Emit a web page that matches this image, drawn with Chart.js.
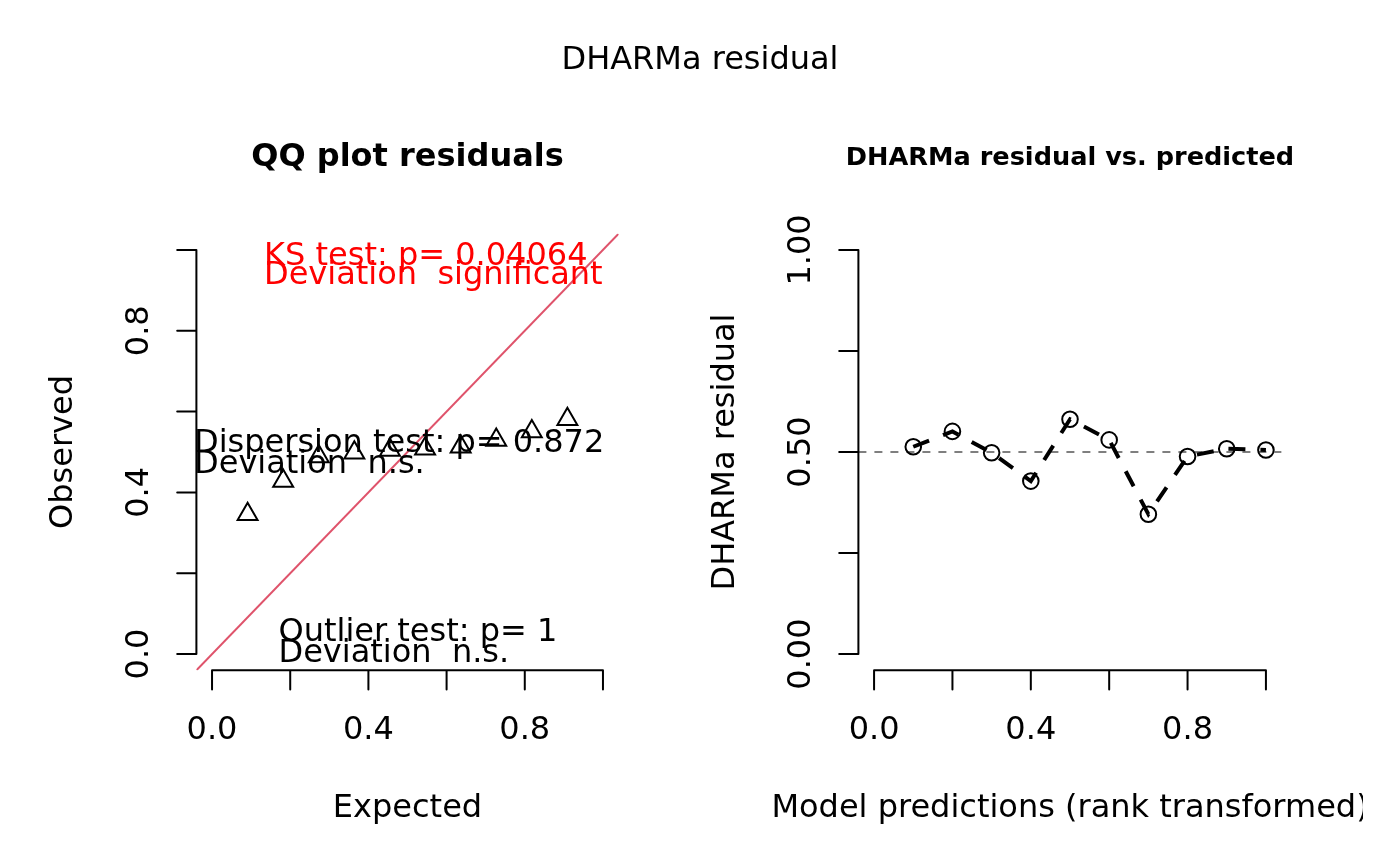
<!DOCTYPE html>
<html>
<head>
<meta charset="utf-8">
<script src="https://cdn.jsdelivr.net/npm/chart.js@4.4.1/dist/chart.umd.min.js"></script>
<style>
html, body { margin: 0; padding: 0; background: #fff; }
#wrap { position: relative; width: 1400px; height: 866px; overflow: hidden; background: #fff; }
#qq { position: absolute; left: 0; top: 0; }
#res { position: absolute; left: 700px; top: 0; }
</style>
</head>
<body>
<div id="wrap">
    <canvas id="qq" width="1400" height="866"></canvas>
    <canvas id="res" width="663" height="866"></canvas>
</div>
<script>
// QQ plot: expected vs observed quantiles
const qqExpected = [0.091, 0.182, 0.273, 0.364, 0.455, 0.545, 0.636, 0.727, 0.818, 0.909];
const qqObserved = [0.346, 0.428, 0.489, 0.498, 0.505, 0.508, 0.513, 0.530, 0.551, 0.581];

// residual vs predicted (rank transformed)
const rankPred = [0.1, 0.2, 0.3, 0.4, 0.5, 0.6, 0.7, 0.8, 0.9, 1.0];
const residuals = [0.513, 0.551, 0.498, 0.428, 0.581, 0.530, 0.346, 0.489, 0.508, 0.505];

// ticks
const xTicks = [0, 0.2, 0.4, 0.6, 0.8, 1];
const xTickLabels = ['0.0', '', '0.4', '', '0.8', ''];
const qqYTicks = [0, 0.2, 0.4, 0.6, 0.8, 1];
const qqYTickLabels = ['0.0', '', '0.4', '', '0.8', ''];
const resYTicks = [0, 0.25, 0.5, 0.75, 1];
const resYTickLabels = ['0.00', '', '0.50', '', '1.00'];

// test results printed in the QQ panel
const testTexts = [
    'KS test: p= 0.04064', 'Deviation  significant',
    'Dispersion test: p= 0.872', 'Deviation  n.s.',
    'Outlier test: p= 1', 'Deviation  n.s.'
];
const testColors = ['#ff0000', '#ff0000', '#000', '#000', '#000', '#000'];

const AXIS_MIN = -0.04;
const AXIS_MAX = 1.04;
const FONT = '"DejaVu Sans", "Liberation Sans", sans-serif';
const TCK = 19.2;

// where the legend-like texts sit (data units, left edge / baseline)
const notePos = [
    [0.133, 0.963], [0.133, 0.915],
    [-0.046, 0.499], [-0.046, 0.448],
    [0.170, 0.033], [0.170, -0.019]
];

function rAxes(cfg) {
    return {
        id: 'rAxes',
        afterDraw(chart) {
            const { ctx, chartArea: a } = chart;
            const xs = chart.scales.x, ys = chart.scales.y;
            ctx.save();
            ctx.strokeStyle = '#000';
            ctx.fillStyle = '#000';
            ctx.lineWidth = 2;
            ctx.lineCap = 'round';

            // axis lines + ticks
            ctx.beginPath();
            ctx.moveTo(xs.getPixelForValue(cfg.xTicks[0]), a.bottom);
            ctx.lineTo(xs.getPixelForValue(cfg.xTicks[cfg.xTicks.length - 1]), a.bottom);
            cfg.xTicks.forEach(v => {
                const px = xs.getPixelForValue(v);
                ctx.moveTo(px, a.bottom);
                ctx.lineTo(px, a.bottom + TCK);
            });
            ctx.moveTo(a.left, ys.getPixelForValue(cfg.yTicks[0]));
            ctx.lineTo(a.left, ys.getPixelForValue(cfg.yTicks[cfg.yTicks.length - 1]));
            cfg.yTicks.forEach(v => {
                const py = ys.getPixelForValue(v);
                ctx.moveTo(a.left, py);
                ctx.lineTo(a.left - TCK, py);
            });
            ctx.stroke();

            // tick labels
            ctx.font = '32px ' + FONT;
            ctx.textAlign = 'center';
            ctx.textBaseline = 'alphabetic';
            cfg.xTicks.forEach((v, i) => {
                if (cfg.xLabels[i]) ctx.fillText(cfg.xLabels[i], xs.getPixelForValue(v), a.bottom + 69);
            });
            cfg.yTicks.forEach((v, i) => {
                if (!cfg.yLabels[i]) return;
                ctx.save();
                ctx.translate(a.left - 48, ys.getPixelForValue(v));
                ctx.rotate(-Math.PI / 2);
                ctx.fillText(cfg.yLabels[i], 0, 0);
                ctx.restore();
            });

            // axis titles
            const cx = (a.left + a.right) / 2;
            const cy = (a.top + a.bottom) / 2;
            ctx.fillText(cfg.xTitle, cx, a.bottom + 147);
            ctx.save();
            ctx.translate(a.left - 124, cy);
            ctx.rotate(-Math.PI / 2);
            ctx.fillText(cfg.yTitle, 0, 0);
            ctx.restore();

            // panel title
            ctx.font = 'bold ' + cfg.mainSize + 'px ' + FONT;
            ctx.fillText(cfg.main, cx, a.top - cfg.mainOffset);

            // outer title
            if (cfg.outer) {
                ctx.font = '32px ' + FONT;
                ctx.fillText(cfg.outer, 700, 69);
            }

            // notes
            if (cfg.notes) {
                ctx.font = '32px ' + FONT;
                ctx.textAlign = 'left';
                cfg.notes.forEach((t, i) => {
                    ctx.fillStyle = cfg.noteColors[i];
                    ctx.fillText(t, xs.getPixelForValue(cfg.notePos[i][0]), ys.getPixelForValue(cfg.notePos[i][1]));
                });
            }
            ctx.restore();
        }
    };
}

function baseOptions(padding) {
    return {
        responsive: false,
        animation: false,
        devicePixelRatio: 1,
        events: [],
        layout: { padding },
        plugins: { legend: { display: false }, tooltip: { enabled: false }, title: { display: false } },
        scales: {
            x: { type: 'linear', min: AXIS_MIN, max: AXIS_MAX, display: false },
            y: { type: 'linear', min: AXIS_MIN, max: AXIS_MAX, display: false }
        }
    };
}

new Chart(document.getElementById('qq'), {
    type: 'scatter',
    data: {
        datasets: [
            {
                data: [{ x: AXIS_MIN, y: AXIS_MIN }, { x: AXIS_MAX, y: AXIS_MAX }],
                showLine: true,
                borderColor: '#df536b',
                borderWidth: 2,
                pointRadius: 0
            },
            {
                data: qqExpected.map((v, i) => ({ x: v, y: qqObserved[i] })),
                pointStyle: 'triangle',
                pointRadius: 11.5,
                pointBorderWidth: 2,
                pointBorderColor: '#000',
                pointBackgroundColor: 'rgba(0,0,0,0)'
            }
        ]
    },
    options: baseOptions({ left: 196.4, right: 781.4, top: 233.8, bottom: 195.8 }),
    plugins: [rAxes({
        xTicks, xLabels: xTickLabels,
        yTicks: qqYTicks, yLabels: qqYTickLabels,
        xTitle: 'Expected', yTitle: 'Observed',
        main: 'QQ plot residuals', mainSize: 32, mainOffset: 67.5,
        outer: 'DHARMa residual',
        notes: testTexts, noteColors: testColors, notePos
    })]
});

new Chart(document.getElementById('res'), {
    type: 'scatter',
    data: {
        datasets: [
            {
                data: rankPred.map((v, i) => ({ x: v, y: residuals[i] })),
                showLine: true,
                borderColor: '#000',
                borderWidth: 4,
                borderDash: [17, 15],
                pointStyle: 'circle',
                pointRadius: 7.8,
                pointBorderWidth: 2,
                pointBorderColor: '#000',
                pointBackgroundColor: 'rgba(0,0,0,0)'
            },
            {
                data: [{ x: AXIS_MIN, y: 0.5 }, { x: AXIS_MAX, y: 0.5 }],
                showLine: true,
                borderColor: '#555',
                borderWidth: 1.5,
                borderDash: [8, 8],
                pointRadius: 0
            }
        ]
    },
    options: baseOptions({ left: 158.4, right: 81.4, top: 233.8, bottom: 195.8 }),
    plugins: [rAxes({
        xTicks, xLabels: xTickLabels,
        yTicks: resYTicks, yLabels: resYTickLabels,
        xTitle: 'Model predictions (rank transformed)', yTitle: 'DHARMa residual',
        main: 'DHARMa residual vs. predicted', mainSize: 25.6, mainOffset: 68.5
    })]
});
</script>
</body>
</html>
